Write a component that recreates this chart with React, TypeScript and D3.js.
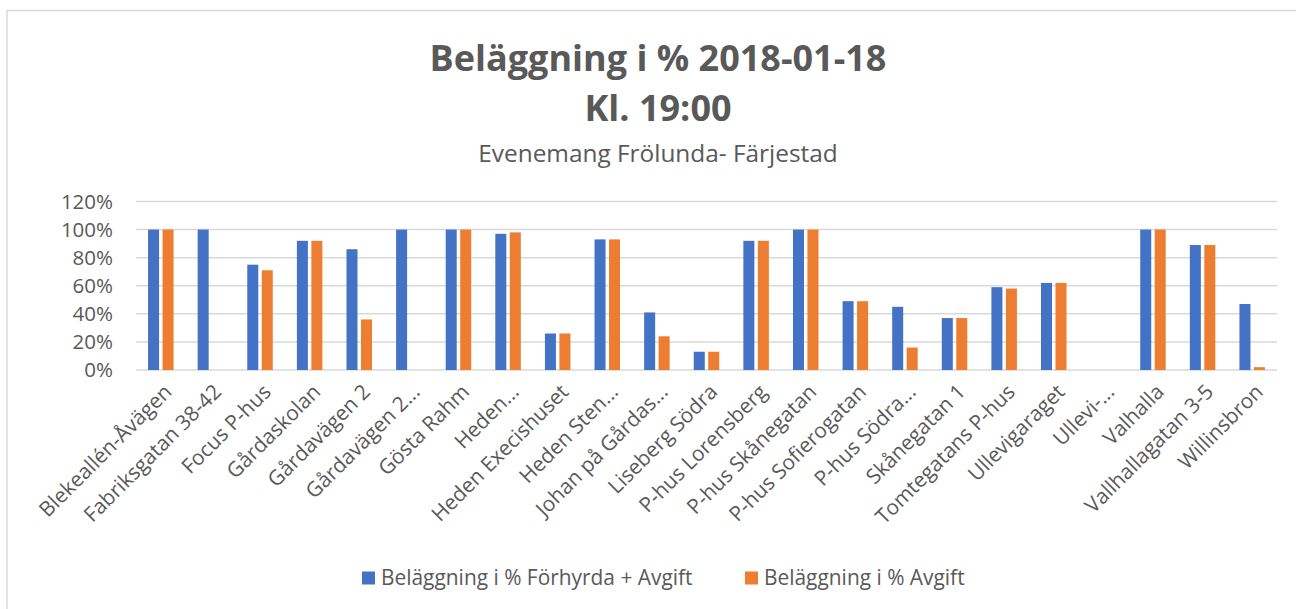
import { useRef, useEffect } from "react";
import * as d3 from "d3";

// parking occupancy, percent
const categories = [
  "Blekeallén-Åvägen",
  "Fabriksgatan 38-42",
  "Focus P-hus",
  "Gårdaskolan",
  "Gårdavägen 2",
  "Gårdavägen 2...",
  "Gösta Rahm",
  "Heden...",
  "Heden Execishuset",
  "Heden Sten...",
  "Johan på Gårdas...",
  "Liseberg Södra",
  "P-hus Lorensberg",
  "P-hus Skånegatan",
  "P-hus Sofierogatan",
  "P-hus Södra...",
  "Skånegatan 1",
  "Tomtegatans P-hus",
  "Ullevigaraget",
  "Ullevi-...",
  "Valhalla",
  "Vallhallagatan 3-5",
  "Willinsbron",
];

const forhyrdaAvgift = [100, 100, 75, 92, 86, 100, 100, 97, 26, 93, 41, 13, 92, 100, 49, 45, 37, 59, 62, 0, 100, 89, 47];
const avgift = [100, 0, 71, 92, 36, 0, 100, 98, 26, 93, 24, 13, 92, 100, 49, 16, 37, 58, 62, 0, 100, 89, 2];

const seriesNames = ["Beläggning i % Förhyrda + Avgift", "Beläggning i % Avgift"];
const seriesColors = ["#4472C4", "#ED7D31"];
const yTicks = [0, 20, 40, 60, 80, 100, 120];

const W = 1296;
const H = 609;
const FONT = "'Open Sans', sans-serif";
const TEXT = "#595959";
const GRID = "#d9d9d9";

export default function App() {
  const svgRef = useRef<SVGSVGElement>(null);

  useEffect(() => {
    const svg = d3.select(svgRef.current);
    svg.selectAll("*").remove();

    const plot = { left: 136, right: 1277, top: 201.5, bottom: 370 };

    // outer chart border (runs off the right/bottom of the picture)
    svg.append("rect")
      .attr("x", 7).attr("y", 10.5)
      .attr("width", 1310).attr("height", 620)
      .attr("fill", "#fff")
      .attr("stroke", GRID).attr("stroke-width", 1.5);

    // titles
    const titles = [
      { text: "Beläggning i % 2018-01-18", y: 71, size: 36, weight: 700 },
      { text: "Kl. 19:00", y: 121, size: 36, weight: 700 },
      { text: "Evenemang Frölunda- Färjestad", y: 162, size: 24.4, weight: 400 },
    ];
    svg.selectAll("text.title")
      .data(titles)
      .join("text")
      .attr("class", "title")
      .attr("x", 658)
      .attr("y", (d) => d.y)
      .attr("text-anchor", "middle")
      .attr("font-family", FONT)
      .attr("font-size", (d) => d.size)
      .attr("font-weight", (d) => d.weight)
      .attr("fill", TEXT)
      .text((d) => d.text);

    const y = d3.scaleLinear().domain([0, 120]).range([plot.bottom, plot.top]);
    const x = d3.scaleBand<string>()
      .domain(categories)
      .range([plot.left, plot.right])
      .paddingInner(0.486)
      .paddingOuter(0.243);
    const xs = d3.scaleBand<number>()
      .domain([0, 1])
      .range([0, x.bandwidth()])
      .paddingInner(0.24);

    // gridlines
    svg.append("g")
      .selectAll("line")
      .data(yTicks)
      .join("line")
      .attr("x1", plot.left).attr("x2", plot.right)
      .attr("y1", (d) => y(d)).attr("y2", (d) => y(d))
      .attr("stroke", GRID).attr("stroke-width", 1.5);

    // y labels
    svg.append("g")
      .selectAll("text")
      .data(yTicks)
      .join("text")
      .attr("x", 113)
      .attr("y", (d) => y(d))
      .attr("dy", "0.35em")
      .attr("text-anchor", "end")
      .attr("font-family", FONT)
      .attr("font-size", 20.5)
      .attr("fill", TEXT)
      .text((d) => `${d}%`);

    // bars
    const series = [forhyrdaAvgift, avgift];
    series.forEach((vals, si) => {
      svg.append("g")
        .selectAll("rect")
        .data(vals.map((v, i) => ({ v, c: categories[i] })))
        .join("rect")
        .attr("x", (d) => (x(d.c) as number) + (xs(si) as number))
        .attr("width", xs.bandwidth())
        .attr("y", (d) => y(d.v))
        .attr("height", (d) => y(0) - y(d.v))
        .attr("fill", seriesColors[si]);
    });

    // category labels, rotated
    svg.append("g")
      .selectAll("text")
      .data(categories)
      .join("text")
      .attr("transform", (d) => {
        const cx = (x(d) as number) + x.bandwidth() / 2;
        return `translate(${cx + 7},${plot.bottom + 18}) rotate(-45)`;
      })
      .attr("dy", "0.35em")
      .attr("text-anchor", "end")
      .attr("font-family", FONT)
      .attr("font-size", 20.8)
      .attr("fill", TEXT)
      .text((d) => d);

    // legend
    const legendItems = [
      { name: seriesNames[0], color: seriesColors[0], x: 362 },
      { name: seriesNames[1], color: seriesColors[1], x: 745 },
    ];
    const lg = svg.append("g")
      .selectAll("g")
      .data(legendItems)
      .join("g")
      .attr("transform", (d) => `translate(${d.x},578)`);
    lg.append("rect")
      .attr("x", 0).attr("y", -6.5)
      .attr("width", 13).attr("height", 13)
      .attr("fill", (d) => d.color);
    lg.append("text")
      .attr("x", 19)
      .attr("dy", "0.35em")
      .attr("font-family", FONT)
      .attr("font-size", 20.9)
      .attr("fill", TEXT)
      .text((d) => d.name);
  }, []);

  return (
    <div style={{ position: "absolute", left: 0, top: 0, width: W, height: H, overflow: "hidden", background: "#fff" }}>
      <svg ref={svgRef} width={W} height={H} />
    </div>
  );
}
